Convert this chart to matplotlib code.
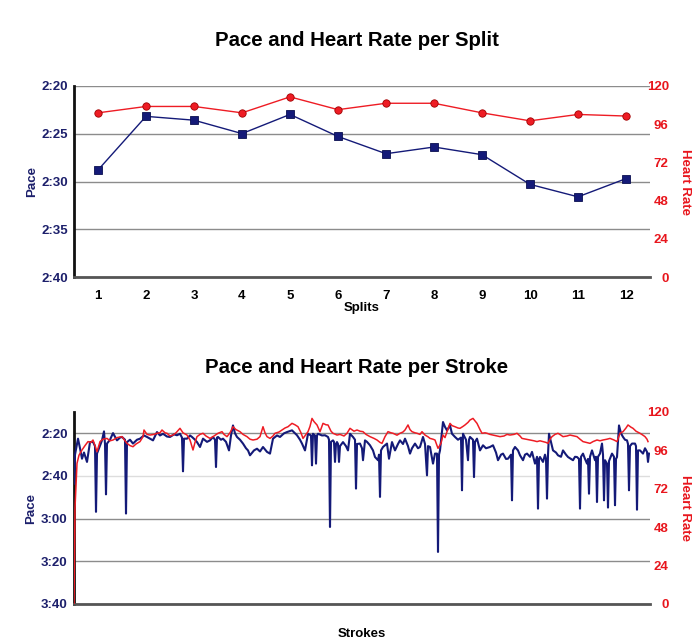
import matplotlib
matplotlib.use("Agg")
import matplotlib.pyplot as plt
from matplotlib.ticker import FuncFormatter

plt.rcParams['font.family'] = ['Liberation Sans', 'DejaVu Sans']
plt.rcParams['font.weight'] = 'bold'

# ---------------- data ----------------
splits = [1, 2, 3, 4, 5, 6, 7, 8, 9, 10, 11, 12]
split_pace = [148.8, 143.2, 143.6, 145.0, 143.0, 145.3, 147.1, 146.4, 147.2, 150.3, 151.6, 149.7]  # seconds / 500m
split_hr = [103, 107, 107, 103, 113, 105, 109, 109, 103, 98, 102, 101]

pace_strokes = [0, 1, 4, 6, 8, 10, 13, 16, 19, 21, 22, 23, 25, 28, 30, 31, 32, 33, 36, 39, 43, 46, 48, 51, 52, 53,
                56, 59, 63, 66, 70, 73, 76, 79, 83, 86, 89, 93, 96, 100, 103, 106, 108, 109, 110, 113, 116, 118,
                121, 123, 126, 129, 133, 136, 139, 141, 142, 143, 144, 147, 149, 152, 155, 157, 159, 161, 163, 166,
                169, 172, 174, 176, 180, 183, 186, 189, 193, 196, 199, 203, 206, 210, 213, 218, 221, 223, 226, 228,
                231, 234, 237, 238, 239, 241, 242, 243, 244, 248, 251, 254, 255, 256, 257, 259, 260, 261, 262, 263,
                264, 265, 266, 269, 272, 274, 276, 279, 281, 282, 283, 286, 288, 289, 291, 293, 296, 299, 301, 304,
                305, 306, 307, 309, 313, 315, 318, 321, 324, 326, 329, 331, 334, 336, 338, 341, 344, 346, 349, 351,
                353, 354, 356, 359, 361, 363, 364, 365, 366, 369, 371, 373, 376, 378, 381, 384, 387, 388, 389, 392,
                394, 395, 396, 399, 400, 401, 403, 406, 409, 412, 416, 419, 422, 424, 427, 429, 432, 434, 437, 438,
                439, 441, 444, 446, 449, 451, 453, 456, 458, 461, 463, 464, 465, 466, 469, 471, 472, 473, 474, 475,
                477, 479, 482, 484, 487, 489, 492, 494, 497, 499, 501, 503, 505, 506, 507, 509, 511, 513, 514, 515,
                516, 518, 521, 522, 523, 524, 526, 528, 529, 530, 531, 533, 534, 535, 538, 540, 541, 542, 543, 545,
                547, 549, 551, 553, 554, 555, 556, 558, 561, 562, 563, 564, 566, 569, 571, 573, 574, 575]
stroke_pace = [163.6, 150, 142.5, 147, 151.9, 149, 153.4, 144.1, 144.0, 146, 176.8, 149.5, 147, 143.3, 139.1, 145,
               168.6, 144.8, 143, 139.9, 143.3, 142, 141.7, 143, 177.6, 144.1,
               143, 144.8, 143, 142.5, 141, 141.7, 142.5, 143.3, 139.4, 141, 140.2, 141.5, 141.7, 140.5, 140.9,
               140.2, 142, 157.8, 142.5, 142.5, 141, 141.7,
               143, 144.1, 146.4, 142.5, 144, 143.3, 141.7, 143, 155.8, 142, 141.7, 143, 142.5, 144, 148, 141,
               136.3, 140, 141.7, 143,
               144.8, 147, 148, 150.3, 148, 147.2, 148.5, 146.4, 148.7, 149.5, 142.5, 141, 141.7, 140, 139.4, 138.6,
               140, 140.9, 143, 144.8,
               148, 140.2, 141, 155, 140.2, 141, 154.2, 141, 140.2, 141, 140.9, 141.7, 143, 183.9, 144, 143.3, 144,
               153.4, 145, 144.1,
               145, 153.4, 146, 144.1, 146, 148, 140.2, 141.7, 143, 165.9, 145, 144.8, 147, 152.6, 143.3, 144, 145.6,
               148, 151.1, 152.6,
               150, 169.8, 148, 146.4, 144.8, 151.9, 144.1, 148, 145, 143.3, 145, 142.5, 146, 149.5, 147, 144.8, 147,
               146.4, 141.7, 145,
               159.7, 146, 146.4, 154.2, 149.5, 149.5, 195.6, 150, 148, 134.7, 137, 138.6, 136.3, 140.2, 141.7, 143,
               142, 166.7, 140.2, 143,
               152.6, 143, 141.7, 143, 160.5, 144, 142.5, 148, 145.6, 147, 146.4, 145.6, 149, 152.6, 150, 149.5, 152,
               151.9, 150, 171.4,
               148, 146.4, 148, 150.3, 152.6, 150, 149.5, 151, 148.7, 154.2, 151, 175.3, 152, 151.1, 153.4, 150, 152,
               170.6, 150, 140.2,
               144, 148, 149, 150.3, 151, 148, 150, 151.1, 152, 152.6, 151, 151.1, 152, 175.3, 151, 149.5, 152, 154.2,
               152, 168.3,
               151, 148, 152.6, 151, 172.2, 151, 149.5, 144.8, 150, 171.4, 152.6, 154.2, 174.8, 153, 149.5, 151, 173.7,
               152, 151.1, 136.3,
               140, 141.7, 143, 143.3, 145, 166.7, 146, 144.8, 144.8, 146, 175.8, 148, 148, 149.5, 147, 148.7, 153.4,
               149.5]

hr_strokes = [0, 1, 3, 5, 8, 11, 14, 17, 19, 21, 23, 26, 29, 33, 36, 39, 43, 48, 51, 53, 56, 59, 62, 66, 69, 70,
              73, 76, 80, 83, 86, 88, 91, 93, 96, 99, 102, 106, 109, 113, 116, 119, 121, 123, 126, 129, 132, 136,
              140, 144, 148, 150, 153, 156, 159, 162, 166, 169, 173, 176, 179, 183, 186, 189, 191, 193, 196, 199,
              201, 205, 208, 211, 214, 218, 221, 224, 227, 229, 232, 234, 236, 238, 240, 243, 246, 249, 252, 254,
              257, 259, 263, 266, 270, 273, 276, 280, 283, 286, 289, 292, 296, 300, 303, 306, 308, 311, 314, 317,
              319, 323, 326, 329, 331, 334, 336, 338, 341, 343, 346, 348, 351, 354, 356, 359, 361, 364, 367, 369,
              371, 373, 376, 378, 381, 384, 386, 389, 391, 394, 396, 399, 401, 403, 406, 408, 411, 413, 416, 419,
              423, 426, 430, 433, 436, 440, 443, 446, 448, 452, 456, 460, 463, 466, 469, 472, 474, 476, 478, 481,
              484, 487, 489, 493, 496, 500, 503, 506, 509, 512, 516, 519, 523, 526, 529, 533, 536, 540, 543, 546,
              549, 552, 554, 557, 559, 562, 566, 569, 571, 573, 574]
stroke_hr = [0, 60, 87.9, 93, 96.25, 99, 101.5, 101, 102.5, 99, 95.2, 101.5, 103, 103.5, 102, 102.5, 104, 104.6, 102,
             100.4, 99, 98.3, 100, 101.5, 104.6, 108.75,
             106, 105.6, 106, 106.7, 107, 108.75, 107, 106.7, 105, 105.6, 107, 109.8, 107, 105.6, 102.5, 96.25, 101,
             104.6, 106, 106.7, 105, 103.5,
             105, 106.7, 107.7, 106, 104.6, 107, 110.8, 109, 107.7, 106, 104.6, 103, 102.5, 103, 104.6, 110.8, 107,
             104.6, 103.5, 105,
             106.7, 107.5, 108.75, 110, 110.8, 112.9, 112, 110.8, 107, 103.5, 106, 107.7, 111, 116, 114, 111.9, 107.7,
             112.9, 112, 111.9,
             108, 106.7, 105.6, 106, 105, 106.7, 109.8, 108, 108.75, 108, 107.7, 106, 104.6, 103.5, 102.5, 101, 100.4,
             104.6, 107.7, 107,
             106.7, 105.5, 106.7, 107.5, 108.75, 111.9, 109, 107.7, 107, 106.7, 106, 107.7, 105.6, 104.5, 103.5, 103,
             102.5, 97.3, 100.4, 105.6,
             104, 107.7, 112.9, 111.5, 110.8, 110, 109.8, 111, 111.9, 113.5, 115, 116, 114.5, 112.9, 109, 106.7, 107,
             106.7, 106, 105.6,
             105, 104.6, 105, 106, 105.6, 106, 106.7, 105, 103.5, 103, 102.5, 102, 101.5, 102, 101.5, 101, 100.4,
             103, 104.6, 106,
             106.7, 105.5, 104.6, 105, 105.6, 105, 104.6, 103, 101.5, 101, 100.4, 101.5, 102.5, 102, 102.5, 103, 103.5,
             102.5, 101.5, 106.7,
             107.7, 110, 111.9, 110.5, 109.8, 108, 106.7, 105.5, 104.6, 103, 101.5]

pace_ticks_top = [140, 145, 150, 155, 160]
pace_ticks_bottom = [140, 160, 180, 200, 220]
hr_ticks = [0, 24, 48, 72, 96, 120]

# ---------------- style ----------------
NAVY = '#141a78'
NAVY_TXT = '#1c1f6b'
RED = '#ee1c24'
RED_TXT = '#e8161d'
GRID = '#8c8c8c'
FS = 9.5


def fmt_pace(v, pos=None):
    v = int(round(v))
    return f"{v // 60}:{v % 60:02d}"


fig = plt.figure(figsize=(6.97, 6.4), dpi=100)
W, H = 697.0, 640.0


def make_axes(left, right, top, bottom):
    return fig.add_axes([left / W, 1 - bottom / H, (right - left) / W, (bottom - top) / H])


def style_axes(ax, ax2, pace_lim, pace_ticks):
    ax.set_ylim(*pace_lim)
    ax.set_yticks(pace_ticks)
    ax.yaxis.set_major_formatter(FuncFormatter(fmt_pace))
    ax.tick_params(axis='y', length=0, pad=4.5, labelsize=FS, labelcolor=NAVY_TXT)
    ax.tick_params(axis='x', length=0, labelsize=FS, labelcolor='black')
    for s in ['top', 'right']:
        ax.spines[s].set_visible(False)
    ax.spines['left'].set_color('#111111')
    ax.spines['left'].set_linewidth(2.0)
    ax.spines['bottom'].set_color('#555555')
    ax.spines['bottom'].set_linewidth(2.0)
    ax.yaxis.grid(True, color=GRID, linewidth=1.0)
    ax.set_axisbelow(True)
    ax.set_ylabel('Pace', color=NAVY_TXT, fontsize=FS, fontweight='bold', labelpad=2.5)

    ax2.set_ylim(0, 120)
    ax2.set_yticks(hr_ticks)
    ax2.tick_params(axis='y', length=0, pad=13.5, labelsize=FS, labelcolor=RED_TXT)
    for lab in ax2.get_yticklabels():
        lab.set_horizontalalignment('right')
    for s in ['top', 'right', 'left', 'bottom']:
        ax2.spines[s].set_visible(False)
    ax2.set_ylabel('Heart Rate', color=RED_TXT, fontsize=FS, fontweight='bold', rotation=270, labelpad=16)


# ---------------- top chart ----------------
ax1 = make_axes(74, 650, 85.7, 277.3)
ax1b = ax1.twinx()
ax1.plot(splits, split_pace, color=NAVY, lw=1.0, marker='s', ms=5.3, mfc=NAVY, mec='#0a0f50', mew=0.6, zorder=3)
ax1b.plot(splits, split_hr, color=RED, lw=1.0, marker='o', ms=5.3, mfc=RED, mec='#a00000', mew=0.6, zorder=3)
ax1.set_xlim(0.5, 12.5)
ax1.set_xticks(splits)
ax1.tick_params(axis='x', pad=9)
style_axes(ax1, ax1b, (160, 140), pace_ticks_top)
ax1.set_xlabel('Splits', fontsize=FS, fontweight='bold', labelpad=0)
fig.text(357 / W, 1 - 46 / H, 'Pace and Heart Rate per Split', ha='center', va='baseline',
         fontsize=14.7, fontweight='bold')

# ---------------- bottom chart ----------------
ax2 = make_axes(74, 650, 412, 604)
ax2b = ax2.twinx()
ax2.plot(pace_strokes, stroke_pace, color=NAVY, lw=1.5, zorder=3)
ax2b.plot(hr_strokes, stroke_hr, color=RED, lw=1.1, zorder=3)
ax2.set_xlim(0, 576)
ax2.set_xticks([])
style_axes(ax2, ax2b, (220, 130), pace_ticks_bottom)
for val, gl in zip(pace_ticks_bottom, ax2.get_ygridlines()):
    if val == 160:
        gl.set_color('#dddddd')
ax2.set_xlabel('Strokes', fontsize=FS, fontweight='bold', labelpad=17)
fig.text(357 / W, 1 - 373 / H, 'Pace and Heart Rate per Stroke', ha='center', va='baseline',
         fontsize=14.7, fontweight='bold')

fig.savefig('out.png', dpi=100, facecolor='white')
